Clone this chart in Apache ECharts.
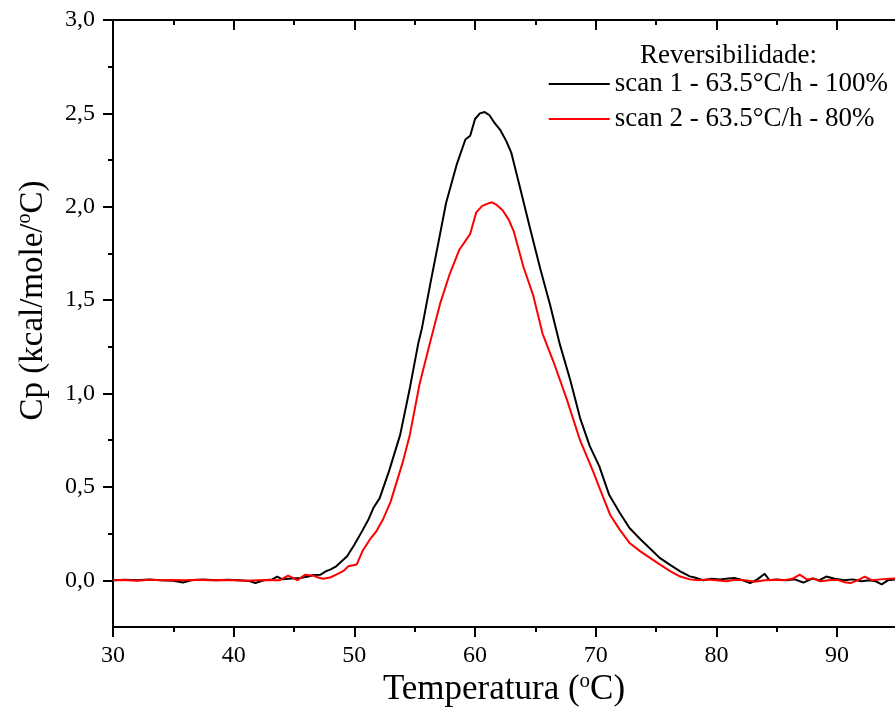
<!DOCTYPE html>
<html>
<head>
<meta charset="utf-8">
<script src="https://cdn.jsdelivr.net/npm/echarts@6/dist/echarts.min.js"></script>
<style>
html,body{margin:0;padding:0;background:#fff;}
#chart{width:895px;height:709px;}
</style>
</head>
<body>
<div id="chart"></div>
<script>
// ---- data ----
const scan1Name = 'scan 1 - 63.5°C/h - 100%';
const scan2Name = 'scan 2 - 63.5°C/h - 80%';

const scan1Temp = [
  30, 31, 32, 33, 34, 35, 35.8, 36.5, 37.5, 38.5,
  39.5, 40.5, 41.3, 41.8, 42.5, 43.2, 43.6, 44.0, 44.8, 45.5,
  46.2, 46.6, 47.2, 47.7, 48.0, 48.5, 49.4, 50.0, 50.7, 51.2,
  51.6, 52.1, 52.9, 53.8, 54.6, 55.3, 55.6, 56.3, 57.0, 57.6,
  58.5, 59.2, 59.6, 60.0, 60.4, 60.8, 61.2, 61.6, 62.1, 62.6,
  63.0, 63.7, 64.5, 65.4, 66.2, 67.0, 67.9, 68.7, 69.5, 70.3,
  71.1, 72.0, 72.8, 73.7, 74.5, 75.3, 76.1, 77.0, 77.8, 78.2,
  78.9, 79.6, 80.3, 81.0, 81.5, 82.2, 82.8, 83.4, 84.0, 84.4,
  85.0, 85.8, 86.5, 87.2, 88.0, 88.5, 89.1, 89.8, 90.6, 91.3,
  92.0, 92.7, 93.2, 93.7, 94.2, 95
];
const scan1Cp = [
  0.0, 0.003, 0.0, 0.005, 0.0, -0.003, -0.012, 0.0, 0.004, 0.0,
  0.003, 0.0, -0.004, -0.014, 0.0, 0.005, 0.02, 0.006, 0.01, 0.012,
  0.02, 0.028, 0.03, 0.05, 0.057, 0.075, 0.129, 0.19, 0.27, 0.33,
  0.39, 0.44, 0.59, 0.78, 1.03, 1.27, 1.35, 1.59, 1.82, 2.02,
  2.23, 2.36, 2.38, 2.47, 2.50, 2.507, 2.49, 2.45, 2.41, 2.35,
  2.29, 2.11, 1.90, 1.67, 1.48, 1.27, 1.07, 0.87, 0.72, 0.61,
  0.46, 0.36, 0.28, 0.22, 0.17, 0.12, 0.085, 0.048, 0.021, 0.015,
  0.0, 0.008, 0.005, 0.01, 0.012, 0.0, -0.015, 0.005, 0.035, 0.0,
  0.005, 0.0, 0.005, -0.012, 0.01, 0.0, 0.02, 0.008, 0.0, 0.005,
  -0.005, 0.0, -0.005, -0.022, 0.0, 0.005
];

const scan2Temp = [
  30, 31, 32, 33, 34, 35, 36, 37, 38, 39,
  40, 41, 42, 43, 43.8, 44.5, 45.0, 45.3, 45.9, 46.6,
  47.0, 47.4, 48.0, 48.5, 49.1, 49.5, 50.2, 50.7, 51.3, 51.8,
  52.4, 53.0, 54.0, 54.6, 55.4, 56.3, 57.1, 57.9, 58.7, 59.6,
  60.1, 60.6, 61.1, 61.4, 61.8, 62.3, 62.8, 63.2, 64.0, 64.8,
  65.6, 66.5, 67.6, 68.7, 69.8, 70.4, 71.2, 72.0, 72.8, 73.7,
  74.5, 75.3, 76.2, 77.0, 77.8, 78.5, 79.2, 80.0, 80.8, 81.6,
  82.4, 83.2, 84.0, 84.8, 85.6, 86.3, 86.9, 87.5, 88.0, 88.6,
  89.3, 90.0, 90.6, 91.1, 91.7, 92.3, 92.9, 93.6, 94.3, 95
];
const scan2Cp = [
  0.0, 0.002, -0.002, 0.003, 0.0, 0.002, 0.0, 0.003, 0.0, 0.002,
  0.0, -0.003, 0.0, 0.002, 0.0, 0.025, 0.01, 0.0, 0.03, 0.025,
  0.015, 0.008, 0.015, 0.03, 0.05, 0.075, 0.085, 0.16, 0.22, 0.26,
  0.33, 0.42, 0.63, 0.78, 1.05, 1.28, 1.48, 1.64, 1.77, 1.855,
  1.97, 2.005, 2.018, 2.024, 2.01, 1.98, 1.93, 1.87, 1.68, 1.53,
  1.32, 1.17, 0.97, 0.75, 0.58, 0.48, 0.35, 0.27, 0.20, 0.155,
  0.12, 0.085, 0.048, 0.02, 0.005, 0.0, 0.004, 0.0, -0.005, 0.003,
  0.0, -0.008, 0.0, 0.003, 0.0, 0.008, 0.03, 0.005, 0.01, -0.005,
  0.0, 0.003, -0.01, -0.015, 0.0, 0.02, 0.0, 0.005, 0.008, 0.01
];

// axis ranges / tick steps
const xRange = [30, 94.8];      // visible temperature range
const xTickRange = [30, 90];    // range that carries ticks and labels
const xStep = 10;
const yRange = [-0.25, 3.0];
const yTickRange = [0, 3.0];
const yStep = 0.5;
// half-step shifted ranges: their minor ticks fall on the major values
const xMajorRange = [25, 95];
const yMajorRange = [-0.25, 3.25];

// ---- chart ----
const FONT = '"Liberation Serif", "Times New Roman", serif';
const zip = (xs, ys) => xs.map((x, i) => [x, ys[i]]);

const chart = echarts.init(document.getElementById('chart'), null, {renderer: 'canvas'});

// plot rectangle (pixels)
const PL = 113, PT = 20, PW = 782, PH = 607;
const xPx = PW / (xRange[1] - xRange[0]);
const yPx = PH / (yRange[1] - yRange[0]);

const LINE = {color: '#000', width: 2};
const AXIS_LINE = {show: true, onZero: false, lineStyle: LINE};
const GB = {containLabel: false, outerBoundsMode: 'none'};

function majorTickAxis(gridIndex, position, range, step, inside) {
  return {
    type: 'value', gridIndex: gridIndex, position: position,
    min: range[0], max: range[1], interval: step,
    splitLine: {show: false},
    axisLine: {show: false, onZero: false},
    axisTick: {show: false, inside: inside},
    axisLabel: {show: false},
    minorTick: {show: true, splitNumber: 2, length: 10, lineStyle: {color: '#000', width: 2}}
  };
}

const option = {
  backgroundColor: '#fff',
  animation: false,
  textStyle: {fontFamily: FONT},
  grid: [
    Object.assign({left: PL, top: PT, width: PW, height: PH}, GB),
    Object.assign({left: PL, top: PT, width: (xTickRange[1] - xTickRange[0]) * xPx, height: PH}, GB),
    Object.assign({left: PL, top: PT, width: PW, height: (yTickRange[1] - yTickRange[0]) * yPx}, GB),
    Object.assign({left: PL - (xRange[0] - xMajorRange[0]) * xPx, top: PT,
                   width: (xMajorRange[1] - xMajorRange[0]) * xPx, height: PH}, GB),
    Object.assign({left: PL, top: PT - (yMajorRange[1] - yRange[1]) * yPx,
                   width: PW, height: (yMajorRange[1] - yMajorRange[0]) * yPx}, GB)
  ],
  legend: {
    orient: 'vertical', right: 2, top: 65,
    icon: 'rect', itemWidth: 61, itemHeight: 2, itemGap: 7,
    textStyle: {fontFamily: FONT, fontSize: 27, color: '#000', lineHeight: 28},
    data: [scan1Name, scan2Name]
  },
  graphic: [{
    type: 'text', left: 640, top: 42,
    style: {text: 'Reversibilidade:', font: '27px ' + FONT, fill: '#000'}
  }],
  xAxis: [
    {
      type: 'value', gridIndex: 0, position: 'bottom', min: xRange[0], max: xRange[1],
      splitLine: {show: false}, axisTick: {show: false}, axisLabel: {show: false},
      axisLine: AXIS_LINE,
      name: '{a|Temperatura (}{s|o}{a|C)}',
      nameLocation: 'middle', nameGap: 44,
      nameTextStyle: {rich: {
        a: {fontFamily: FONT, fontSize: 35, color: '#000', lineHeight: 38},
        s: {fontFamily: FONT, fontSize: 21, color: '#000', verticalAlign: 'top', lineHeight: 38, padding: [0, 0, 15, 0]}
      }}
    },
    {
      type: 'value', gridIndex: 0, position: 'top', min: xRange[0], max: xRange[1],
      splitLine: {show: false}, axisTick: {show: false}, axisLabel: {show: false},
      axisLine: AXIS_LINE
    },
    {
      type: 'value', gridIndex: 1, position: 'bottom',
      min: xTickRange[0], max: xTickRange[1], interval: xStep,
      splitLine: {show: false},
      axisLine: AXIS_LINE,
      axisTick: {show: true, inside: false, length: 10, lineStyle: LINE},
      minorTick: {show: true, splitNumber: 2, length: 5, lineStyle: LINE},
      axisLabel: {show: true, margin: 17, color: '#000', fontFamily: FONT, fontSize: 24}
    },
    {
      type: 'value', gridIndex: 1, position: 'top',
      min: xTickRange[0], max: xTickRange[1], interval: xStep,
      splitLine: {show: false},
      axisLine: AXIS_LINE,
      axisTick: {show: true, inside: true, length: 10, lineStyle: LINE},
      minorTick: {show: true, splitNumber: 2, length: 5, lineStyle: LINE},
      axisLabel: {show: false}
    },
    {type: 'value', gridIndex: 2, position: 'bottom', min: xRange[0], max: xRange[1], show: false},
    majorTickAxis(3, 'bottom', xMajorRange, xStep, false),
    majorTickAxis(3, 'top', xMajorRange, xStep, true),
    {type: 'value', gridIndex: 4, position: 'bottom', min: xRange[0], max: xRange[1], show: false}
  ],
  yAxis: [
    {
      type: 'value', gridIndex: 0, position: 'left', min: yRange[0], max: yRange[1],
      splitLine: {show: false}, axisTick: {show: false}, axisLabel: {show: false},
      axisLine: AXIS_LINE,
      name: '{a|Cp (kcal/mole/}{s|o}{a|C)}',
      nameLocation: 'middle', nameGap: 62, nameRotate: 90,
      nameTextStyle: {
        padding: [0, 0, 0, 46],
        rich: {
          a: {fontFamily: FONT, fontSize: 33, color: '#000', lineHeight: 36},
          s: {fontFamily: FONT, fontSize: 20, color: '#000', verticalAlign: 'top', lineHeight: 36, padding: [0, 0, 14, 0]}
        }
      }
    },
    {type: 'value', gridIndex: 1, position: 'left', min: yRange[0], max: yRange[1], show: false},
    {
      type: 'value', gridIndex: 2, position: 'left',
      min: yTickRange[0], max: yTickRange[1], interval: yStep,
      splitLine: {show: false},
      axisLine: AXIS_LINE,
      axisTick: {show: true, inside: false, length: 10, lineStyle: LINE},
      minorTick: {show: true, splitNumber: 2, length: 5, lineStyle: LINE},
      axisLabel: {
        show: true, margin: 18, color: '#000', fontFamily: FONT, fontSize: 24,
        formatter: v => v.toFixed(1).replace('.', ',')
      }
    },
    {type: 'value', gridIndex: 3, position: 'left', min: yRange[0], max: yRange[1], show: false},
    majorTickAxis(4, 'left', yMajorRange, yStep, false)
  ],
  series: [
    {
      name: scan1Name, type: 'line', xAxisIndex: 0, yAxisIndex: 0,
      data: zip(scan1Temp, scan1Cp),
      symbol: 'none', showSymbol: false, clip: true,
      lineStyle: {color: '#000000', width: 2}, itemStyle: {color: '#000000'}
    },
    {
      name: scan2Name, type: 'line', xAxisIndex: 0, yAxisIndex: 0,
      data: zip(scan2Temp, scan2Cp),
      symbol: 'none', showSymbol: false, clip: true,
      lineStyle: {color: '#ff0000', width: 2}, itemStyle: {color: '#ff0000'}
    }
  ]
};
chart.setOption(option);
</script>
</body>
</html>
